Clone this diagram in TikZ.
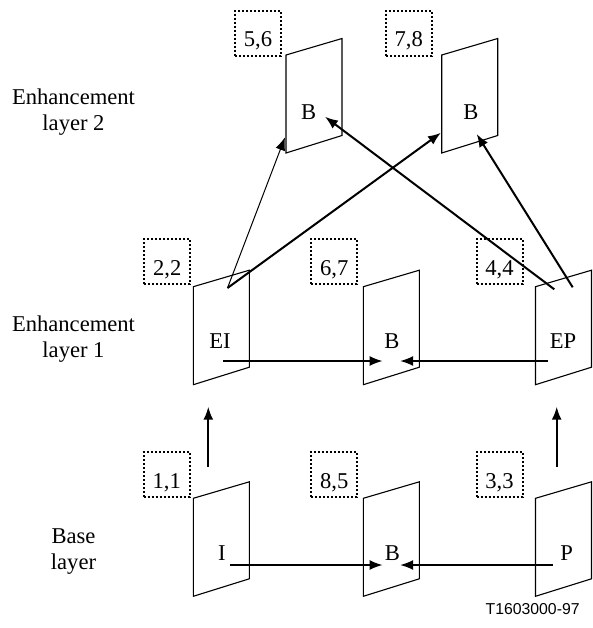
\documentclass[tikz,border=0pt]{standalone}
\usepackage{fontspec}
\setmainfont{Liberation Serif}
\newfontfamily\tagfont{Liberation Sans}
\usetikzlibrary{arrows.meta,calc}
\tikzstyle{frame} = [draw, line width=0.55pt, line join=miter]
\tikzstyle{picno} = [draw, line width=1pt, dash pattern=on 1pt off 1pt,
    minimum width=23pt, text height=18pt, text depth=4.5pt, inner sep=0pt,
    font=\fontsize{11.3}{13}\selectfont]
\tikzstyle{lbl} = [inner sep=0pt, anchor=base, font=\fontsize{11.3}{13}\selectfont]
\tikzstyle{layer} = [inner sep=0pt, align=center, anchor=base, font=\fontsize{11.3}{13}\selectfont]
\tikzstyle{arrow} = [-{Latex[length=6.5pt,width=5pt]}, line width=1pt]
\tikzstyle{thinarrow} = [-{Latex[length=6.5pt,width=5pt]}, line width=0.5pt]
% picture frame: left x, top-left y
\newcommand{\pframe}[2]{\draw[frame] (#1,#2) -- ++(56,-16.5) -- ++(0,97) -- ++(-56,17.5) -- cycle;}

\begin{document}
\begin{tikzpicture}[x=0.5pt, y=-0.5pt]
\useasboundingbox (0,0) rectangle (593,628);

% layer names
\node[layer] (layer2) at (73.5,130) {Enhancement\\layer 2};
\node[layer] (layer1) at (73.5,357.7) {Enhancement\\layer 1};
\node[layer] (layer0) at (73.5,569) {Base\\layer};

% frames
\pframe{193.3}{498.3}
\pframe{363.3}{498.3}
\pframe{535.5}{498.3}
\pframe{193.3}{286.7}
\pframe{363.3}{286.7}
\pframe{535.5}{286.7}
\pframe{286}{55}
\pframe{441.7}{55}

\node[lbl] (lI)   at (222,560.7) {I};
\node[lbl] (lB85) at (392.5,560.7) {B};
\node[lbl] (lP)   at (566.7,560.7) {P};
\node[lbl] (lEI)  at (220,348.3) {EI};
\node[lbl] (lB67) at (392,348.3) {B};
\node[lbl] (lEP)  at (563,348.3) {EP};
\node[lbl] (lB56) at (308.7,119.3) {B};
\node[lbl] (lB78) at (471,119.3) {B};

% display order numbers
\node[picno] (n56) at (258,33.2) {5,6};
\node[picno] (n78) at (408.8,33.2) {7,8};
\node[picno] (n22) at (167.2,261.8) {2,2};
\node[picno] (n67) at (334.2,261.8) {6,7};
\node[picno] (n44) at (499.5,261.8) {4,4};
\node[picno] (n11) at (166.7,474.5) {1,1};
\node[picno] (n85) at (334.2,474.5) {8,5};
\node[picno] (n33) at (499.5,474.5) {3,3};

% arrow ends
\coordinate (iR) at (230,565);
\coordinate (b85L) at (382.7,565);
\coordinate (b85R) at (400,565);
\coordinate (pL) at (552.7,565);
\coordinate (eiR) at (223.3,361);
\coordinate (b67L) at (382.7,361);
\coordinate (b67R) at (400,361);
\coordinate (epL) at (548.3,361);
\coordinate (iUp) at (208.3,466.7);
\coordinate (eiDn) at (208.3,406.7);
\coordinate (pUp) at (556.7,466.7);
\coordinate (epDn) at (556.7,406.7);
\coordinate (eiT) at (227.5,288);
\coordinate (epT1) at (554.3,289.3);
\coordinate (epT2) at (572.7,287.3);
\coordinate (b56L) at (285,137.3);
\coordinate (b56R) at (325,116.7);
\coordinate (b78L) at (441,132.7);
\coordinate (b78R) at (476.7,134);

\draw[arrow] (iR) -- (b85L);
\draw[arrow] (pL) -- (b85R);
\draw[arrow] (eiR) -- (b67L);
\draw[arrow] (epL) -- (b67R);
\draw[arrow] (iUp) -- (eiDn);
\draw[arrow] (pUp) -- (epDn);
\draw[thinarrow] (eiT) -- (b56L);
\draw[arrow] (eiT) -- (b78L);
\draw[arrow] (epT1) -- (b56R);
\draw[arrow] (epT2) -- (b78R);

\node[inner sep=0pt, anchor=base east, font=\tagfont\fontsize{7.9}{9}\selectfont] (tag) at (580,614) {T1603000-97};
\end{tikzpicture}
\end{document}
